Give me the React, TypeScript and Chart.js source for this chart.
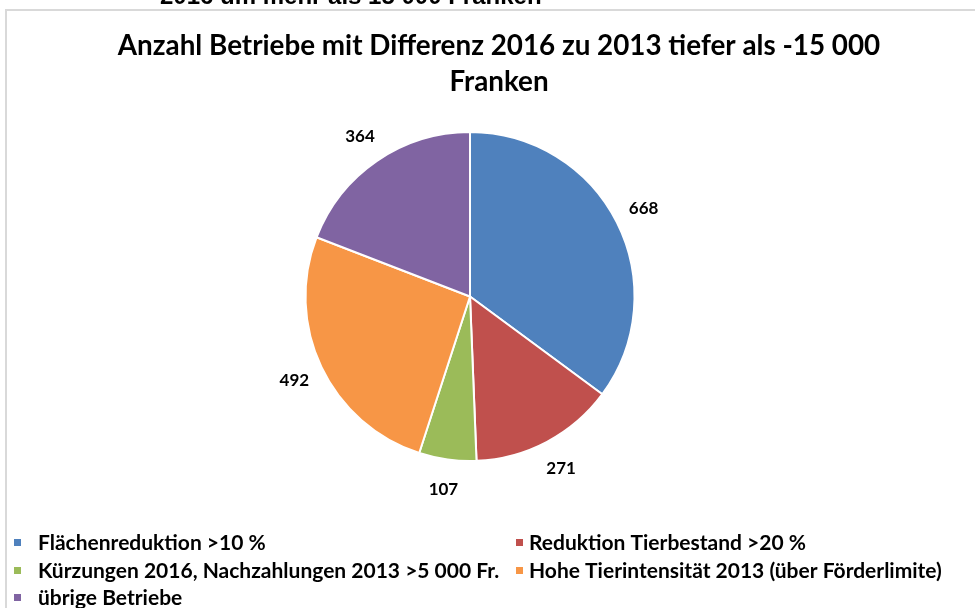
import React, { useEffect, useRef } from "react";
import { Chart, registerables } from "chart.js";

Chart.register(...registerables);

const categories = [
  "Flächenreduktion >10 %",
  "Reduktion Tierbestand >20 %",
  "Kürzungen 2016, Nachzahlungen 2013 >5 000 Fr.",
  "Hohe Tierintensität 2013 (über Förderlimite)",
  "übrige Betriebe",
];
const values = [668, 271, 107, 492, 364];
const colors = ["#4F81BD", "#C0504D", "#9BBB59", "#F79646", "#8064A2"];
const titleLines = ["Anzahl Betriebe mit Differenz 2016 zu 2013 tiefer als -15 000", "Franken"];
const cutText = "2016 um mehr als 15 000 Franken";

const FONT = "Lato, 'Open Sans', sans-serif";

const decor = {
  id: "decor",
  beforeDraw(chart: any) {
    const ctx = chart.ctx;
    ctx.save();
    ctx.fillStyle = "#ffffff";
    ctx.fillRect(0, 0, chart.width, chart.height);
    // cut text at top
    ctx.fillStyle = "#000";
    ctx.font = "bold 24px 'Liberation Sans', Arial, sans-serif";
    ctx.textAlign = "left";
    ctx.textBaseline = "alphabetic";
    ctx.fillText(cutText, 160, 4);
    // frame
    ctx.strokeStyle = "#d9d9d9";
    ctx.lineWidth = 2;
    ctx.strokeRect(6, 10, chart.width + 10, chart.height + 10);
    // title
    ctx.fillStyle = "#000";
    ctx.font = "bold 27.8px " + FONT;
    ctx.textAlign = "center";
    ctx.textBaseline = "middle";
    ctx.fillText(titleLines[0], 499, 46);
    ctx.fillText(titleLines[1], 499, 82);
    ctx.restore();
  },
  afterDraw(chart: any) {
    const ctx = chart.ctx;
    ctx.save();
    const meta = chart.getDatasetMeta(0);
    ctx.font = "bold 17px " + FONT;
    ctx.fillStyle = "#000";
    ctx.textAlign = "center";
    ctx.textBaseline = "middle";
    meta.data.forEach((arc: any, i: number) => {
      const mid = (arc.startAngle + arc.endAngle) / 2;
      const r = arc.outerRadius + 30;
      const x = arc.x + Math.cos(mid) * r;
      const y = arc.y + Math.sin(mid) * r;
      ctx.fillText(String(chart.data.datasets[0].data[i]), x, y);
    });
    // legend
    ctx.font = "bold 21px " + FONT;
    ctx.textAlign = "left";
    const pos = [
      [14, 543],
      [516, 543],
      [14, 571],
      [516, 571],
      [14, 598],
    ];
    chart.data.labels.forEach((lab: string, i: number) => {
      const [x, y] = pos[i];
      ctx.fillStyle = colors[i];
      ctx.fillRect(x, y - 4, 7, 7);
      ctx.fillStyle = "#000";
      ctx.fillText(lab, x + 24 - (i % 2) * 11, y);
    });
    ctx.restore();
  },
};

export default function App() {
  const ref = useRef<HTMLCanvasElement>(null);
  useEffect(() => {
    const chart = new Chart(ref.current as HTMLCanvasElement, {
      type: "pie",
      data: {
        labels: categories,
        datasets: [
          {
            data: values,
            backgroundColor: colors,
            borderColor: "#ffffff",
            borderWidth: 2,
          },
        ],
      },
      options: {
        responsive: false,
        animation: false,
        devicePixelRatio: 1,
        layout: { padding: { top: 131, bottom: 146, left: 100, right: 135 } },
        plugins: {
          legend: { display: false },
          title: { display: false },
          tooltip: { enabled: false },
        },
      },
      plugins: [decor],
    });
    return () => chart.destroy();
  }, []);
  return (
    <div style={{ position: "absolute", left: 0, top: 0, width: 975, height: 608 }}>
      <canvas ref={ref} width={975} height={608} style={{ display: "block" }} />
    </div>
  );
}
